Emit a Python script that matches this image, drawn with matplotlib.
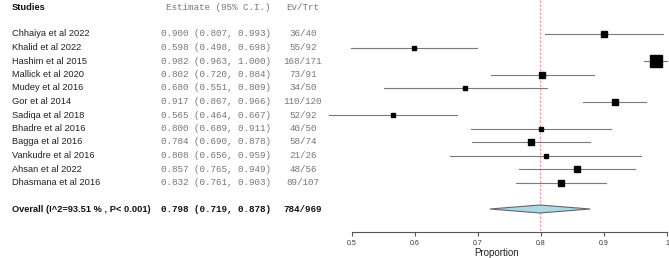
import matplotlib
matplotlib.use('Agg')
import matplotlib.pyplot as plt
import matplotlib.transforms as mtransforms
from matplotlib.patches import Polygon

studies = ['Chhaiya et al 2022', 'Khalid et al 2022', 'Hashim et al 2015',
           'Mallick et al 2020', 'Mudey et al 2016', 'Gor et al 2014',
           'Sadiqa et al 2018', 'Bhadre et al 2016', 'Bagga et al 2016',
           'Vankudre et al 2016', 'Ahsan et al 2022', 'Dhasmana et al 2016']
est = [0.900, 0.598, 0.982, 0.802, 0.680, 0.917, 0.565, 0.800, 0.784, 0.808, 0.857, 0.832]
lo = [0.807, 0.498, 0.963, 0.720, 0.551, 0.867, 0.464, 0.689, 0.690, 0.656, 0.765, 0.761]
hi = [0.993, 0.698, 1.000, 0.884, 0.809, 0.966, 0.667, 0.911, 0.878, 0.959, 0.949, 0.903]
events = [36, 55, 168, 73, 34, 110, 52, 40, 58, 21, 48, 89]
totals = [40, 92, 171, 91, 50, 120, 92, 50, 74, 26, 56, 107]
weights = [8.3, 7.8, 17.2, 8.9, 6.7, 10.5, 7.8, 7.3, 8.9, 6.7, 8.3, 9.8]

overall_label = 'Overall (I^2=93.51 % , P< 0.001)'
overall = (0.798, 0.719, 0.878)
overall_n = (784, 969)
xticks = [0.5, 0.6, 0.7, 0.8, 0.9, 1.0]
xticklabels = ['0.5', '0.6', '0.7', '0.8', '0.9', '1']

W, H, DPI = 669, 258, 100
fig = plt.figure(figsize=(W / DPI, H / DPI), dpi=DPI)
ax = fig.add_axes([0, 0, 1, 1])

# pixel -> data mapping: 0.5 at x=352, 630 px per unit; rows 13.5 px apart starting y=34
px_unit = 630.0
ax.set_xlim(0.5 - 352 / px_unit, 0.5 + (W - 352) / px_unit)
row_h = 13.5
ax.set_ylim((H - 34) / row_h, -34 / row_h)

def ypx(p):
    return (p - 34) / row_h

trans = mtransforms.blended_transform_factory(fig.transFigure, ax.transData)
def fx(p):
    return p / W

sans = ['Liberation Sans', 'DejaVu Sans']
mono = ['Liberation Mono', 'DejaVu Sans Mono']
fs = 6.7
fm = 6.7

# header
y_head = ypx(8)
ax.text(fx(12), y_head, 'Studies', transform=trans, fontsize=fs, fontweight='bold',
        family=sans, va='center', color='#111111')
ax.text(fx(166), y_head, 'Estimate (95% C.I.)', transform=trans, fontsize=fm,
        family=mono, va='center', color='#777777')
ax.text(fx(303), y_head, 'Ev/Trt', transform=trans, fontsize=fm,
        family=mono, va='center', ha='center', color='#777777')

# rows
for i, name in enumerate(studies):
    ax.text(fx(12), i, name, transform=trans, fontsize=fs, family=sans,
            va='center', color='#222222')
    ax.text(fx(161), i, '%.3f (%.3f, %.3f)' % (est[i], lo[i], hi[i]), transform=trans,
            fontsize=fm, family=mono, va='center', color='#777777')
    ax.text(fx(303), i, '%d/%d' % (events[i], totals[i]), transform=trans,
            fontsize=fm, family=mono, va='center', ha='center', color='#777777')
    ax.plot([lo[i], hi[i]], [i, i], color='#7a7a7a', lw=0.8, clip_on=False, zorder=2)
    side = weights[i] * 0.64 * 72 / DPI
    ax.plot(est[i], i, marker='s', color='black', markersize=side, zorder=3)

# overall
y_ov = ypx(209)
ax.text(fx(12), y_ov, overall_label, transform=trans, fontsize=fs, fontweight='bold',
        family=sans, va='center', color='#111111')
ax.text(fx(161), y_ov, '%.3f (%.3f, %.3f)' % overall, transform=trans, fontsize=fm,
        fontweight='bold', family=mono, va='center', color='#111111')
ax.text(fx(303), y_ov, '%d/%d' % overall_n, transform=trans, fontsize=fm,
        fontweight='bold', family=mono, va='center', ha='center', color='#111111')
dh = 4 / row_h
diamond = Polygon([(overall[1], y_ov), (overall[0], y_ov - dh), (overall[2], y_ov),
                   (overall[0], y_ov + dh)], closed=True, facecolor='#add8e6',
                  edgecolor='#666666', lw=0.8, zorder=3)
ax.add_patch(diamond)

# reference line
y_axis = ypx(232)
ax.plot([overall[0], overall[0]], [ax.get_ylim()[1], y_axis], color='#f4a3a3',
        lw=0.9, ls=(0, (2, 1.2)), zorder=1)

# x axis
for s in ['top', 'left', 'right']:
    ax.spines[s].set_visible(False)
ax.spines['bottom'].set_position(('data', y_axis))
ax.spines['bottom'].set_bounds(0.5, 1.0)
ax.spines['bottom'].set_color('#555555')
ax.spines['bottom'].set_linewidth(0.8)
ax.set_xticks(xticks)
ax.set_xticklabels(xticklabels, fontsize=5, family=sans, color='#333333')
ax.tick_params(axis='x', length=3, width=0.8, color='#555555', pad=3)
ax.set_yticks([])
ax.text(0.73, ypx(253), 'Proportion', fontsize=7, family=sans, ha='center',
        va='center', color='#222222')

fig.savefig('out.png', dpi=DPI)
